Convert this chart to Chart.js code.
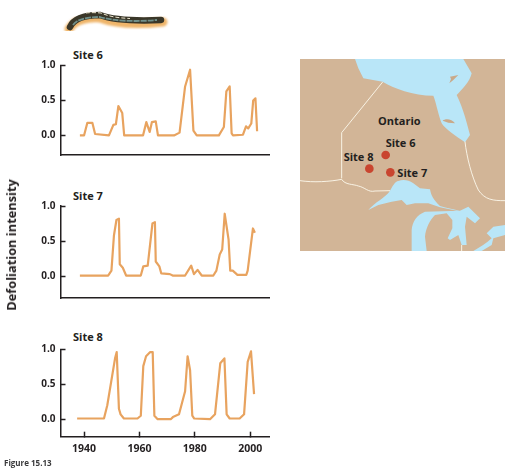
<!DOCTYPE html>
<html>
<head>
<meta charset="utf-8">
<script src="https://cdn.jsdelivr.net/npm/chart.js@4"></script>
<style>
  html, body { margin: 0; padding: 0; background: #fff; }
  body { width: 509px; height: 469px; position: relative; overflow: hidden; font-family: "Open Sans", sans-serif; color: #231f20; }
  canvas { position: absolute; left: 0; }
  .site { position: absolute; left: 73px; font-weight: 700; font-size: 11px; line-height: 12px; }
  #ylabel { position: absolute; left: 11px; top: 245px; font-weight: 700; font-size: 12.8px; white-space: nowrap; transform: translate(-50%, -50%) rotate(-90deg); }
  #fig { position: absolute; left: 4px; top: 458px; font-weight: 700; font-size: 8px; line-height: 10px; color: #3a3a3c; }
  svg { position: absolute; }
  svg text { font-family: "Open Sans", sans-serif; font-weight: 700; fill: #231f20; }
</style>
</head>
<body>
<svg style="left:60px;top:0" width="110" height="40" viewBox="60 0 110 40">
  <defs><filter id="soft"><feGaussianBlur stdDeviation="1.3"/></filter></defs>
  <path d="M69,29 C74,20 88,17 100,18 C113,23 135,25 163,22" fill="none" stroke="#efb56a" stroke-width="9" stroke-linecap="round" filter="url(#soft)"/>
  <path d="M70,27 C74,18 87,15 100,15 C113,20 137,21 161,20" fill="none" stroke="#3a3729" stroke-width="6.5" stroke-linecap="round"/>
  <path d="M73,25 C77,19 88,17 100,17 C113,21 137,22 157,20" fill="none" stroke="#6f8f8a" stroke-width="1.8" stroke-dasharray="6 1"/>
  <path d="M86,13 C90,12.5 96,12.5 101,13 C110,17 120,18 130,18.5" fill="none" stroke="#efe8d2" stroke-width="1" stroke-dasharray="4 2"/>
</svg>

<div class="site" style="top:49px">Site 6</div>
<canvas id="site6"></canvas>
<div class="site" style="top:190px">Site 7</div>
<canvas id="site7"></canvas>
<div class="site" style="top:331px">Site 8</div>
<canvas id="site8"></canvas>
<div id="ylabel">Defoliation intensity</div>
<div id="fig">Figure 15.13</div>

<svg style="left:290px;top:50px" width="219" height="210" viewBox="0 0 657 630">
  <defs><clipPath id="mapbox"><rect x="30" y="27" width="615" height="576"/></clipPath></defs>
  <g clip-path="url(#mapbox)">
    <rect x="30" y="27" width="615" height="576" fill="#d2b597"/>
    <g transform="translate(180,15)" stroke-linejoin="round">
      <path fill="#b9e6f8" d="M15,12 L25,40 L40,70 L98,80 C130,100 190,122 250,122 C258,140 262,170 275,205 C285,222 320,245 345,262 L360,240 C352,210 340,160 320,120 C335,105 360,80 365,55 L340,12 Z"/>
      <path fill="#c9a98a" d="M300,65 L325,60 L310,75 L298,85 L303,72 Z M278,197 C285,190 305,190 315,205 L295,203 Z"/>
    </g>
    <g transform="translate(225,360)" fill="#b9e6f8" stroke-linejoin="round">
      <path d="M10,120 C30,95 60,85 75,62 C85,45 90,35 100,33 C115,28 130,30 145,40 L165,55 L195,58 C198,75 205,90 225,108 C245,115 270,118 290,125 L225,112 L190,100 L150,100 L125,105 L110,90 L80,95 L40,105 Z"/>
      <path d="M140,243 L140,180 C142,155 155,135 180,125 L285,122 L310,110 L345,145 L330,160 L305,140 L300,170 L305,225 L290,225 L280,195 L255,210 L248,205 L262,175 L262,150 L245,130 L210,135 C195,150 182,175 180,200 L185,243 Z"/>
      <path d="M325,243 C345,232 365,220 380,205 L365,190 L385,170 L420,165 L420,195 L385,205 L380,225 L350,243 Z"/>
    </g>
    <g fill="none" stroke="#fbf6ea" stroke-width="2.8">
      <path d="M278,96 L155,248 L155,385 M30,392 C70,398 120,395 155,388 C165,405 190,402 205,408 C225,412 235,428 255,423 L300,422"/>
      <path d="M525,275 C530,320 545,380 565,420 C585,450 610,452 645,452"/>
      <path d="M515,585 L515,603"/>
    </g>
    <g fill="#c9452f">
      <circle cx="287" cy="315" r="13"/>
      <circle cx="238" cy="356" r="13"/>
      <circle cx="301" cy="367" r="13"/>
    </g>
    <g font-size="33">
      <text x="264" y="225">Ontario</text>
      <text x="287" y="291">Site 6</text>
      <text x="161" y="332">Site 8</text>
      <text x="322" y="380">Site 7</text>
    </g>
  </g>
</svg>

<script>
// values
const site6Years = [1938.5, 1940, 1941.2, 1943, 1944, 1949, 1950.6, 1951.5, 1952.4, 1953.8, 1954.5, 1961.3, 1962.5, 1963.7, 1964.5, 1965.9, 1966.7, 1972.5, 1974.5, 1976.5, 1978.3, 1979.5, 1980.7, 1988.7, 1990.5, 1991.4, 1992.6, 1993.3, 1993.8, 1997.4, 1998.5, 1999.3, 2000.4, 2001.1, 2001.9, 2002.5];
const site6Values = [0, 0, 0.18, 0.18, 0.02, 0, 0.15, 0.16, 0.42, 0.32, 0, 0, 0.19, 0.05, 0.19, 0.2, 0, 0, 0.04, 0.7, 0.94, 0.07, 0, 0, 0.12, 0.63, 0.7, 0.03, 0, 0.01, 0.13, 0.1, 0.17, 0.5, 0.53, 0.06];

const site7Years = [1938.5, 1948.7, 1949.9, 1950.8, 1951.7, 1952.6, 1952.9, 1954, 1955.2, 1960.5, 1961.4, 1963, 1964.7, 1965.6, 1965.9, 1967.2, 1967.9, 1971, 1972, 1976.5, 1978.7, 1979.7, 1981, 1982.5, 1986.7, 1987.8, 1989, 1989.9, 1990.8, 1992.2, 1992.8, 1993.7, 1995.4, 1998.6, 1999.1, 2001, 2001.7];
const site7Values = [0.01, 0.01, 0.08, 0.58, 0.8, 0.82, 0.17, 0.12, 0.01, 0.01, 0.14, 0.15, 0.75, 0.77, 0.21, 0.14, 0.04, 0.03, 0.01, 0.01, 0.15, 0.03, 0.09, 0.01, 0.01, 0.08, 0.31, 0.38, 0.89, 0.52, 0.08, 0.08, 0.02, 0.02, 0.08, 0.68, 0.62];

const site8Years = [1937.5, 1947.2, 1948.4, 1951.2, 1951.8, 1952.6, 1953.2, 1954.4, 1959.3, 1960.5, 1961.4, 1962.4, 1963.9, 1964.8, 1965.4, 1966.6, 1971.3, 1972.1, 1974.3, 1976.5, 1977.4, 1978.3, 1979.1, 1979.8, 1985.5, 1987.3, 1989.2, 1990.7, 1991.5, 1992.6, 1996.2, 1997.8, 1999.1, 2000.3, 2001.4];
const site8Values = [0.01, 0.01, 0.2, 0.87, 0.96, 0.15, 0.07, 0.01, 0.01, 0.05, 0.76, 0.9, 0.96, 0.96, 0.05, 0, 0, 0.03, 0.07, 0.4, 0.9, 0.7, 0.05, 0.01, 0, 0.07, 0.8, 0.87, 0.07, 0.01, 0.01, 0.07, 0.82, 0.97, 0.36];

const xTickValues = [1940, 1960, 1980, 2000];
const yTickValues = [0, 0.5, 1];

const INK = '#231f20';
const LINE = '#e8a35f';

// the plot areas are placed by hand, so drop the room Chart.js keeps for tick labels
function noPadding(s) {
    s.paddingTop = 0;
    s.paddingBottom = 0;
    s.paddingLeft = 0;
    s.paddingRight = 0;
}

function makeChart(id, top, height, padTop, yMin, years, values, showX) {
    const canvas = document.getElementById(id);
    canvas.style.top = top + 'px';
    canvas.style.width = '280px';
    canvas.style.height = height + 'px';
    canvas.width = 280;
    canvas.height = height;

    return new Chart(canvas, {
        type: 'line',
        data: {
            datasets: [{
                data: years.map((y, i) => ({ x: y, y: values[i] })),
                borderColor: LINE,
                borderWidth: 2.2,
                borderJoinStyle: 'round',
                pointRadius: 0,
                tension: 0
            }]
        },
        options: {
            responsive: false,
            animation: false,
            layout: { padding: { top: padTop, right: 11, bottom: 0, left: 0 } },
            plugins: { legend: { display: false }, tooltip: { enabled: false } },
            scales: {
                x: {
                    type: 'linear',
                    min: 1931.5,
                    max: 2006.8,
                    afterBuildTicks: s => { s.ticks = showX ? xTickValues.map(v => ({ value: v })) : []; },
                    afterFit: s => { s.height = showX ? 22.3 : 1; noPadding(s); },
                    border: { color: INK, width: 1.5 },
                    grid: { drawOnChartArea: false, drawTicks: showX, tickLength: -5, tickColor: INK, tickWidth: 1.5 },
                    ticks: {
                        display: showX,
                        autoSkip: false,
                        maxRotation: 0,
                        padding: 11,
                        color: INK,
                        font: { family: 'Open Sans', weight: 700, size: 10.5 },
                        callback: v => String(v)
                    }
                },
                y: {
                    min: yMin,
                    max: 1,
                    afterBuildTicks: s => { s.ticks = yTickValues.map(v => ({ value: v })); },
                    afterFit: s => { s.width = 60.5; noPadding(s); },
                    border: { color: INK, width: 1.5 },
                    grid: { drawOnChartArea: false, tickLength: -5, tickColor: INK, tickWidth: 1.5 },
                    ticks: {
                        autoSkip: false,
                        padding: 10,
                        color: INK,
                        font: { family: 'Open Sans', weight: 700, size: 10 },
                        callback: v => v.toFixed(1)
                    }
                }
            }
        }
    });
}

makeChart('site6', 55, 101, 10.5, -0.28, site6Years, site6Values, false);
makeChart('site7', 196, 103, 10, -0.31, site7Years, site7Values, false);
makeChart('site8', 339, 120, 10.3, -0.25, site8Years, site8Values, true);
</script>
</body>
</html>
